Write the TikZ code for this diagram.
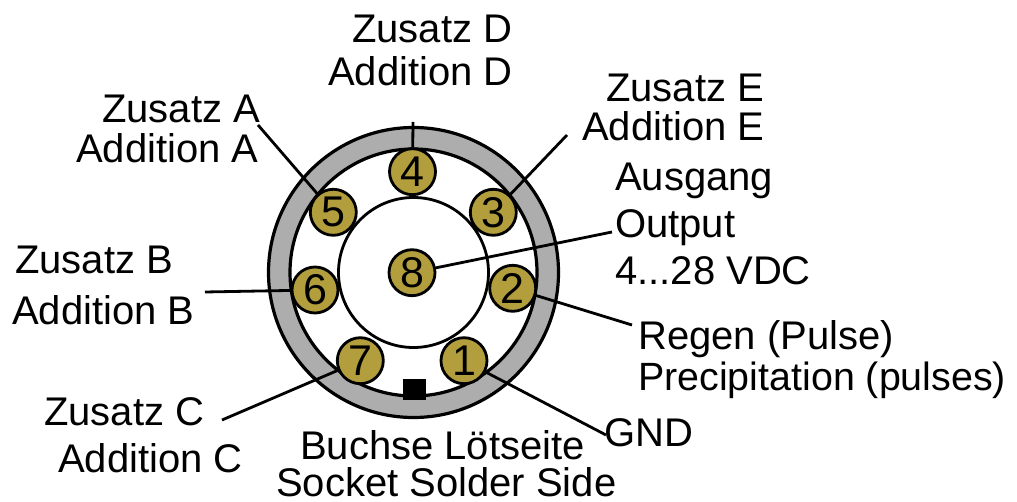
\documentclass[tikz,border=0pt]{standalone}
\usepackage{fontspec}
\setmainfont{Liberation Sans}
\tikzset{
  pin/.style={circle,draw=black,line width=2.8pt,fill=pingold,minimum size=46pt,inner sep=0pt,font=\fontsize{43}{43}\selectfont},
  lab/.style={inner sep=0pt,anchor=base west,font=\fontsize{40}{40}\selectfont},
  wire/.style={draw=black,line width=2.8pt}
}
\definecolor{pingold}{RGB}{178,158,60}
\definecolor{ringgray}{RGB}{173,173,173}
\begin{document}
\begin{tikzpicture}[x=1pt,y=-1pt]
\useasboundingbox (0,0) rectangle (1017,502);
\coordinate (c) at (413.5,272.5);
\node[circle,draw=black,line width=3.2pt,fill=ringgray,minimum size=290pt,inner sep=0pt] (outer) at (c) {};
\node[circle,draw=black,line width=3.2pt,fill=white,minimum size=247pt,inner sep=0pt] (inner) at (c) {};
\node[circle,draw=black,line width=2.8pt,fill=white,minimum size=150pt,inner sep=0pt] (core) at (c) {};
\node[fill=black,minimum width=23pt,minimum height=21pt,inner sep=0pt] (key) at (414,389.5) {};
\coordinate (e4) at (413,122);
\coordinate (e5) at (258,125);
\coordinate (e3) at (567,135);
\coordinate (e8) at (612,232);
\coordinate (e6) at (205,292);
\coordinate (e2) at (632,325);
\coordinate (e7) at (222,420);
\coordinate (e1) at (606,435);
\node[pin] (p4) at (412.5,171.7) {4};
\node[pin] (p3) at (493.3,212.3) {3};
\node[pin] (p5) at (333.3,212.3) {5};
\node[pin] (p8) at (412,272.7) {8};
\node[pin] (p6) at (315,290) {6};
\node[pin] (p2) at (512.7,288.3) {2};
\node[pin] (p7) at (360.3,360.7) {7};
\node[pin] (p1) at (464,360.7) {1};
\draw[wire] (e4) -- (p4);
\draw[wire] (e5) -- (p5);
\draw[wire] (e3) -- (p3);
\draw[wire] (e8) -- (p8);
\draw[wire] (e6) -- (p6);
\draw[wire] (e2) -- (p2);
\draw[wire] (e7) -- (p7);
\draw[wire] (e1) -- (p1);
\node[lab] (tD1) at (352,43) {Zusatz D};
\node[lab] (tD2) at (328,86) {Addition D};
\node[lab] (tA1) at (102,122.5) {Zusatz A};
\node[lab] (tA2) at (76,163) {Addition A};
\node[lab] (tE1) at (606,102) {Zusatz E};
\node[lab] (tE2) at (582,141) {Addition E};
\node[lab] (tO1) at (615,191) {Ausgang};
\node[lab] (tO2) at (615,238) {Output};
\node[lab] (tO3) at (615,285) {4...28 VDC};
\node[lab] (tB1) at (15,274) {Zusatz B};
\node[lab] (tB2) at (12,325) {Addition B};
\node[lab] (tR1) at (638,349) {Regen (Pulse)};
\node[lab,font=\fontsize{39.4}{39.4}\selectfont] (tR2) at (638,390) {Precipitation (pulses)};
\node[lab] (tC1) at (44,425) {Zusatz C};
\node[lab] (tC2) at (58,472) {Addition C};
\node[lab] (tG) at (604,446) {GND};
\node[lab] (tS1) at (300,459) {Buchse Lötseite};
\node[lab] (tS2) at (276,496) {Socket Solder Side};
\end{tikzpicture}
\end{document}
